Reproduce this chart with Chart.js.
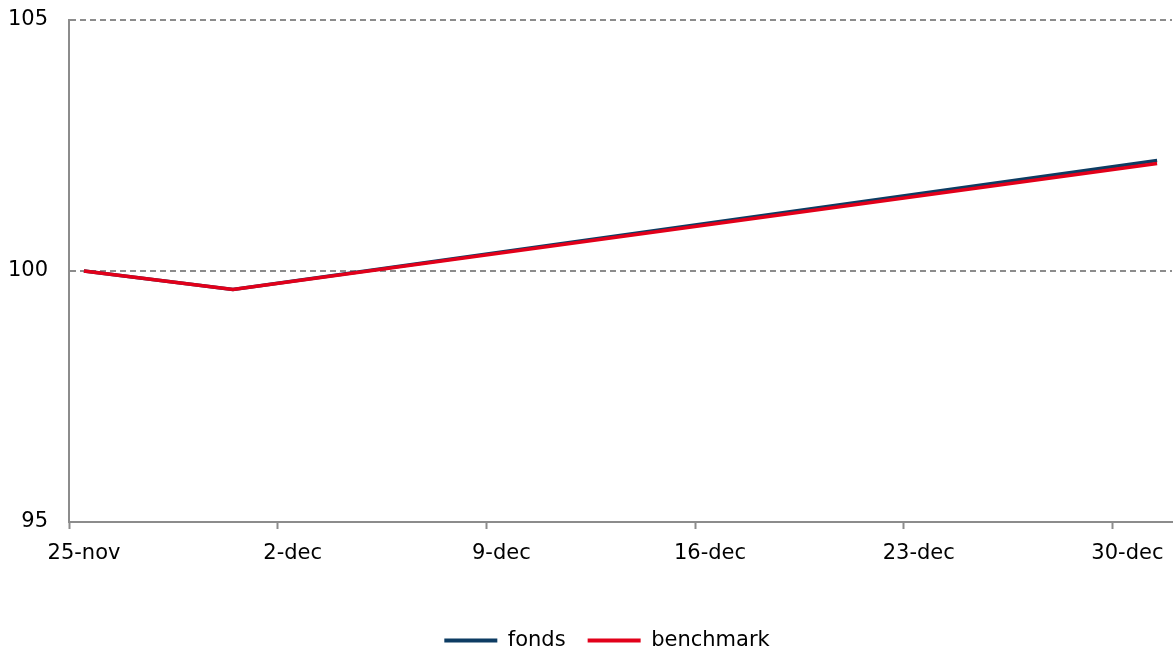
<!DOCTYPE html>
<html>
<head>
<meta charset="utf-8">
<script src="https://cdn.jsdelivr.net/npm/chart.js@4.4.1/dist/chart.umd.min.js"></script>
<style>
  html, body { margin: 0; padding: 0; background: #ffffff; }
  #wrap { width: 1176px; height: 658px; }
</style>
</head>
<body>
<div id="wrap"><canvas id="c" width="1176" height="658"></canvas></div>
<script>
// ---- data ----
const axisStart = '2019-11-25';
const dates = ['2019-11-25', '2019-11-30', '2019-12-31'];
const fonds = [100, 99.63, 102.20];
const benchmark = [100, 99.63, 102.14];
const tickLabels = ['25-nov', '2-dec', '9-dec', '16-dec', '23-dec', '30-dec'];
const yTicks = [95, 100, 105];

const DAY = 86400000;
function dayIndex(d) { return (Date.parse(d) - Date.parse(axisStart)) / DAY + 0.5; }
function pts(vals) { return dates.map((d, i) => ({ x: dayIndex(d), y: vals[i] })); }

const FONT = { family: 'DejaVu Sans', size: 21 };
const GRID = '#8c8c8c';

const shiftLegend = {
  id: 'shiftLegend',
  afterLayout(chart) {
    if (chart.legend) { chart.legend.left += 17; chart.legend.right += 17; }
  }
};

new Chart(document.getElementById('c'), {
  type: 'line',
  data: {
    datasets: [
      { label: 'fonds', data: pts(fonds), borderColor: '#0d3c63', backgroundColor: '#0d3c63',
        borderWidth: 3.5, pointRadius: 0, tension: 0, order: 1 },
      { label: 'benchmark', data: pts(benchmark), borderColor: '#e2001a', backgroundColor: '#e2001a',
        borderWidth: 3.5, pointRadius: 0, tension: 0, order: 0 }
    ]
  },
  plugins: [shiftLegend],
  options: {
    responsive: false,
    animation: false,
    events: [],
    layout: { padding: { top: 20, left: 8, right: 4, bottom: -3 } },
    plugins: {
      tooltip: { enabled: false },
      legend: {
        position: 'bottom',
        labels: {
          font: FONT, color: '#000', boxWidth: 53, boxHeight: 4, padding: 22,
          sort: (a, b) => a.datasetIndex - b.datasetIndex,
          generateLabels: chart => Chart.defaults.plugins.legend.labels.generateLabels(chart)
            .map(it => Object.assign(it, { lineWidth: 0, strokeStyle: 'rgba(0,0,0,0)' }))
        }
      }
    },
    scales: {
      x: {
        type: 'linear',
        min: 0, max: 37,
        afterFit: s => { s.height = 86; },
        ticks: {
          stepSize: 7, includeBounds: false, autoSkip: false, maxRotation: 0,
          font: FONT, color: '#000', padding: 12, labelOffset: 15,
          callback: v => tickLabels[Math.round(v / 7)]
        },
        grid: { drawOnChartArea: false, drawTicks: true, tickLength: 7, tickColor: GRID, tickWidth: 2 },
        border: { display: true, color: GRID, width: 2 }
      },
      y: {
        min: 95, max: 105,
        afterFit: s => { s.width = 61; s.paddingTop = 0; s.paddingBottom = 0; },
        afterBuildTicks: s => { s.ticks = yTicks.map(v => ({ value: v })); },
        ticks: { font: FONT, color: '#000', padding: 21 },
        grid: {
          drawTicks: false, lineWidth: 2,
          color: ctx => (ctx.tick && ctx.tick.value === 95) ? 'rgba(0,0,0,0)' : GRID
        },
        border: { display: true, color: GRID, width: 2, dash: [6, 4] }
      }
    }
  }
});
</script>
</body>
</html>
